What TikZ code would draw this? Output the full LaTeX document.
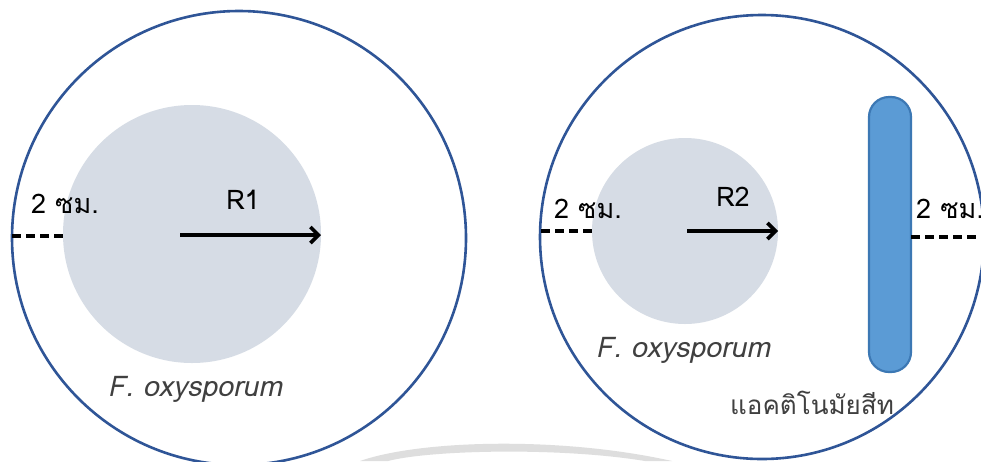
\documentclass[tikz,border=0pt]{standalone}
\usepackage{fontspec}
\setmainfont{Loma}[Script=Thai]
\newfontfamily\thaifont[Script=Thai]{Loma}
\usetikzlibrary{arrows.meta}
\definecolor{dishblue}{HTML}{2F5597}
\definecolor{fungus}{HTML}{D6DCE5}
\definecolor{actino}{HTML}{5B9BD5}
\definecolor{actinoedge}{HTML}{3C78B4}
\definecolor{labelgray}{HTML}{404040}
\tikzset{
	dish/.style = {
		draw=dishblue,
		line width=2.6pt
	},
	colony/.style = {
		fill=fungus
	},
	radius_arrow/.style = {
		-{Straight Barb[length=8pt,width=16pt,line width=3.6pt]},
		line width=3.8pt,
		black
	},
	gap_line/.style = {
		dashed,
		dash pattern=on 9pt off 5pt,
		line width=3.8pt,
		black
	},
	lbl/.style = {
		inner sep=0pt,
		font=\fontsize{27}{29}\selectfont,
		text=black
	},
	species/.style = {
		inner sep=0pt,
		font=\fontsize{28.5}{30}\selectfont\itshape,
		text=labelgray
	},
	streak/.style = {
		draw=actinoedge,
		fill=actino,
		line width=2.2pt,
		rounded corners=20pt
	}
}

\begin{document}
\begin{tikzpicture}[x=1pt,y=-1pt]
\useasboundingbox (0,0) rectangle (981,461);
\clip (0,0) rectangle (981,461);
\fill[white] (0,0) rectangle (981,461);

% left dish: fungus alone
\fill[colony] (192,234) circle (129);
\draw[dish] (239,238) circle (227);
\coordinate (l_edge) at (12,236);
\coordinate (l_rim) at (63,236);
\coordinate (l_center) at (180,235);
\coordinate (l_front) at (321,235);
\draw[gap_line] (l_edge) -- (l_rim);
\draw[radius_arrow] (l_center) -- (l_front);
\node[lbl] (l_gap) at (65,204) {2 ซม.};
\node[lbl] (r1) at (243,200) {R1};
\node[species] (l_name) at (195,389) {F. oxysporum};

% right dish: fungus against streak
\fill[colony] (685,231) circle (93);
\coordinate (r_edge) at (541,231);
\coordinate (r_rim) at (592,231);
\coordinate (r_center) at (687,231);
\coordinate (r_front) at (778,231);
\draw[streak] (869,97) rectangle (911,372);
\draw[dish] (762,237) circle (222);
\coordinate (s_edge) at (911,237);
\coordinate (s_rim) at (985,237);
\draw[gap_line] (r_edge) -- (r_rim);
\draw[gap_line] (s_edge) -- (s_rim);
\draw[radius_arrow] (r_center) -- (r_front);
\node[lbl] (r_gap) at (588,209) {2 ซม.};
\node[lbl, anchor=west] (s_gap) at (916,209) {2 ซม.};
\node[lbl] (r2) at (733,197) {R2};
\node[species] (r_name) at (683,350) {F. oxysporum};
\node[lbl, text=labelgray, font=\fontsize{26}{28}\selectfont\thaifont] (s_name) at (812,403) {แอคติโนมัยสีท};

% faint swoosh
\fill[black!13] (360,461) .. controls (420,440) and (560,436) .. (672,461)
	-- (645,461) .. controls (560,447) and (430,450) .. (388,461) -- cycle;
\end{tikzpicture}
\end{document}
